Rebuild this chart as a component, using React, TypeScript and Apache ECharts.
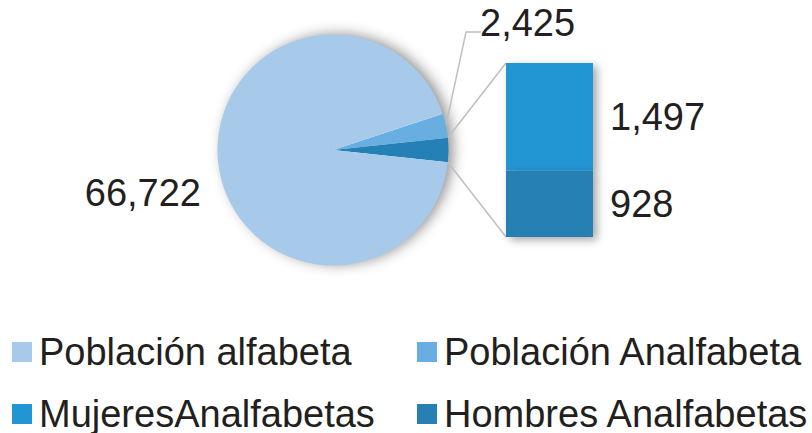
import React, { useEffect, useRef } from "react";
import * as echarts from "echarts";

const pieCategories = ["Población alfabeta", "Población Analfabeta"];
const pieValues = [66722, 2425];
const barCategories = ["MujeresAnalfabetas", "Hombres Analfabetas"];
const barValues = [1497, 928];
const otherName = "Analfabetas (desglose)";

const COLORS = {
  alfabeta: "#a7c9ea",
  analfabeta: "#68aee0",
  other: "#2580b6",
  mujeres: "#2196d3",
  hombres: "#2680b3",
};

const FONT = "Liberation Sans, Arial, sans-serif";
const TEXT = "#231f20";
const FS = 38;

const CX = 333;
const CY = 150;
const R = 115.5;
const GRID = { left: 506, top: 63, width: 87, height: 174 };

const fmt = (v: number) => v.toLocaleString("en-US");

export default function App() {
  const ref = useRef<HTMLDivElement>(null);
  useEffect(() => {
    document.body.style.margin = "0";
    if (!ref.current) return;
    const chart = echarts.init(ref.current, null, { renderer: "svg" });

    const otherValue = barValues.reduce((a, b) => a + b, 0);
    const total = pieValues[0] + pieValues[1] + otherValue;
    const anDeg = (360 * pieValues[1]) / total;
    const otDeg = (360 * otherValue) / total;
    const startAngle = anDeg + otDeg / 2;
    const rad = (d: number) => (d * Math.PI) / 180;
    const edge = (deg: number): [number, number] => [
      CX + R * Math.cos(rad(deg)),
      CY - R * Math.sin(rad(deg)),
    ];
    const upper = edge(otDeg / 2);
    const lower = edge(-otDeg / 2);
    const anMid = edge(startAngle - anDeg / 2);

    const pieData = [
      {
        name: pieCategories[1],
        value: pieValues[1],
        itemStyle: { color: COLORS.analfabeta },
        label: { show: true },
        labelLine: { show: true },
      },
      {
        name: otherName,
        value: otherValue,
        itemStyle: { color: COLORS.other },
        label: { show: false },
        labelLine: { show: false },
      },
      {
        name: pieCategories[0],
        value: pieValues[0],
        itemStyle: { color: COLORS.alfabeta },
        label: { show: true },
        labelLine: { show: false },
      },
    ];

    const legendCommon = {
      orient: "vertical",
      top: 333,
      height: 200,
      padding: 0,
      icon: "rect",
      itemWidth: 20,
      itemHeight: 20,
      itemGap: 24,
      selectedMode: false,
      textStyle: {
        fontSize: FS,
        fontFamily: FONT,
        color: TEXT,
        lineHeight: 37,
        padding: [0, 0, 0, 2],
      },
    };

    chart.setOption({
      animation: false,
      legend: [
        { ...legendCommon, left: 12, data: [pieCategories[0], barCategories[0]] },
        { ...legendCommon, left: 417, data: [pieCategories[1], barCategories[1]] },
      ],
      grid: { ...GRID },
      xAxis: { type: "category", data: ["Analfabetas"], show: false },
      yAxis: { type: "value", min: 0, max: otherValue, show: false },
      graphic: [
        {
          type: "circle",
          shape: { cx: CX, cy: CY, r: R - 1 },
          style: {
            fill: "#ffffff",
            shadowBlur: 14,
            shadowOffsetX: 5,
            shadowOffsetY: -1,
            shadowColor: "rgba(0,0,0,0.45)",
          },
          z: 0,
        },
        {
          type: "line",
          shape: { x1: upper[0], y1: upper[1], x2: GRID.left, y2: GRID.top },
          style: { stroke: "#bfbfbf", lineWidth: 1.5 },
          z: 1,
        },
        {
          type: "line",
          shape: {
            x1: lower[0],
            y1: lower[1],
            x2: GRID.left,
            y2: GRID.top + GRID.height,
          },
          style: { stroke: "#bfbfbf", lineWidth: 1.5 },
          z: 1,
        },
      ],
      series: [
        {
          type: "pie",
          center: [CX, CY],
          radius: R,
          startAngle,
          clockwise: true,
          z: 2,
          itemStyle: { borderWidth: 0 },
          label: {
            position: "outside",
            formatter: (p: any) => fmt(p.value),
            fontSize: FS,
            fontFamily: FONT,
            color: TEXT,
          },
          labelLine: {
            lineStyle: { color: "#bfbfbf", width: 1.5 },
            length: 10,
            length2: 10,
          },
          labelLayout: (p: any) => {
            if (p.dataIndex === 2) {
              return { x: 201, y: 193, align: "right", verticalAlign: "middle" };
            }
            if (p.dataIndex === 0) {
              return {
                x: 480,
                y: 23,
                align: "left",
                verticalAlign: "middle",
                labelLinePoints: [
                  [anMid[0], anMid[1]],
                  [466, 32],
                  [481, 32],
                ],
              };
            }
            return {};
          },
          emphasis: { disabled: true },
          data: pieData,
        },
        {
          type: "bar",
          name: barCategories[1],
          stack: "an",
          barWidth: "100%",
          z: 3,
          itemStyle: {
            color: COLORS.hombres,
            shadowBlur: 8,
            shadowOffsetX: 4,
            shadowOffsetY: 3,
            shadowColor: "rgba(0,0,0,0.35)",
          },
          label: {
            show: true,
            position: "right",
            distance: 17,
            formatter: (p: any) => fmt(p.value),
            fontSize: FS,
            fontFamily: FONT,
            color: TEXT,
          },
          emphasis: { disabled: true },
          data: [barValues[1]],
        },
        {
          type: "bar",
          name: barCategories[0],
          stack: "an",
          barWidth: "100%",
          z: 2,
          itemStyle: {
            color: COLORS.mujeres,
            shadowBlur: 8,
            shadowOffsetX: 4,
            shadowOffsetY: 3,
            shadowColor: "rgba(0,0,0,0.35)",
          },
          label: {
            show: true,
            position: "right",
            distance: 17,
            formatter: (p: any) => fmt(p.value),
            fontSize: FS,
            fontFamily: FONT,
            color: TEXT,
          },
          emphasis: { disabled: true },
          data: [barValues[0]],
        },
      ],
    });
    return () => chart.dispose();
  }, []);
  return <div ref={ref} style={{ width: 812, height: 433 }} />;
}
